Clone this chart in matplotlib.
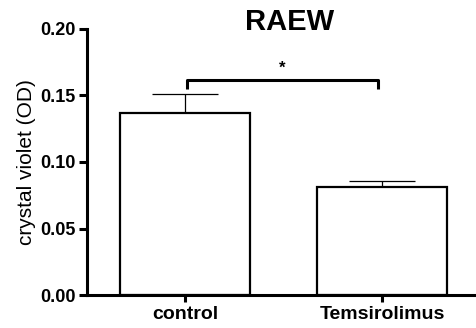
import matplotlib.pyplot as plt

plt.rcParams['font.family'] = ['Liberation Sans', 'DejaVu Sans']

groups = ['control', 'Temsirolimus']
means = [0.137, 0.081]
sems = [0.014, 0.005]
yticks = [0.00, 0.05, 0.10, 0.15, 0.20]

fig = plt.figure(figsize=(4.77, 3.28), dpi=100)
ax = fig.add_axes([0.182, 0.1006, 0.818, 0.811])

x = range(len(groups))
ax.bar(x, means, width=0.66, color='white', edgecolor='black', linewidth=1.6, zorder=2)
ax.errorbar(x, means, yerr=[[0, 0], sems], fmt='none', ecolor='black',
            elinewidth=0.9, capsize=24, capthick=0.9, zorder=1)

# significance bracket
yb = 0.162
ax.plot([0.01, 0.01, 0.98, 0.98], [0.155, yb, yb, 0.155], color='black', lw=2.2,
        solid_capstyle='butt', clip_on=False)
ax.text(0.49, yb + 0.003, '*', ha='center', va='bottom', fontsize=12, fontweight='bold')

ax.set_xlim(-0.5, 1.48)
ax.set_ylim(0, 0.20)
ax.set_yticks(yticks)
ax.set_yticklabels(['%.2f' % v for v in yticks], fontweight='bold', fontsize=13)
ax.set_xticks(list(x))
ax.set_xticklabels(groups, fontweight='bold', fontsize=14)
ax.set_ylabel('crystal violet (OD)', fontsize=15, labelpad=3)
fig.text(0.608, 0.908, 'RAEW', ha='center', va='baseline', fontweight='bold', fontsize=21)

for s in ['top', 'right']:
    ax.spines[s].set_visible(False)
for s in ['left', 'bottom']:
    ax.spines[s].set_linewidth(2.2)
ax.tick_params(axis='y', length=6, width=2.2, pad=2)
ax.tick_params(axis='x', length=5, width=2.2, pad=3)

fig.savefig('out.png', dpi=100)
